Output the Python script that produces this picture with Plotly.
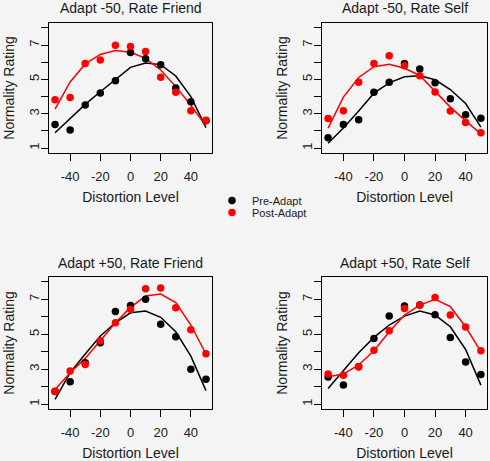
import plotly.graph_objects as go

# ---------------- data ----------------
distortion = [-50, -40, -30, -20, -10, 0, 10, 20, 30, 40, 50]

panel_titles = [
    "Adapt -50, Rate Friend",
    "Adapt -50, Rate Self",
    "Adapt +50, Rate Friend",
    "Adapt +50, Rate Self",
]

# Panel 1: Adapt -50, Rate Friend
p1_pre_pts = [2.38, 2.06, 3.51, 4.21, 4.92, 6.56, 6.20, 5.85, 4.50, 3.70, 2.60]
p1_post_pts = [3.81, 3.95, 5.93, 6.13, 6.99, 6.91, 6.62, 5.12, 4.26, 3.17, 2.63]
p1_pre_fit = [1.90, 2.72, 3.55, 4.28, 4.97, 5.70, 5.95, 5.86, 5.20, 4.00, 2.20]
p1_post_fit = [3.27, 4.85, 5.90, 6.45, 6.68, 6.58, 6.22, 5.55, 4.58, 3.50, 2.28]

# Panel 2: Adapt -50, Rate Self
p2_pre_pts = [1.60, 2.38, 2.65, 4.25, 4.83, 5.92, 5.61, 4.81, 3.87, 2.95, 2.74]
p2_post_pts = [2.72, 3.18, 4.84, 5.92, 6.38, 5.80, 5.21, 4.27, 3.16, 2.49, 1.90]
p2_pre_fit = [1.29, 2.17, 3.16, 4.20, 4.80, 5.15, 5.21, 4.98, 4.41, 3.60, 2.22]
p2_post_fit = [2.17, 3.97, 5.11, 5.74, 5.88, 5.65, 5.23, 4.30, 3.39, 2.59, 1.83]

# Panel 3: Adapt +50, Rate Friend
p3_pre_pts = [1.72, 2.28, 3.37, 4.51, 6.31, 6.65, 7.00, 5.58, 4.86, 3.00, 2.43]
p3_post_pts = [1.74, 2.89, 3.27, 4.63, 5.66, 6.44, 7.61, 7.65, 6.52, 5.26, 3.88]
p3_pre_fit = [1.27, 2.80, 3.87, 4.90, 5.66, 6.23, 6.33, 5.97, 5.14, 3.75, 1.77]
p3_post_fit = [1.84, 2.80, 3.62, 4.67, 5.66, 6.54, 7.19, 7.30, 6.81, 5.53, 3.87]

# Panel 4: Adapt +50, Rate Self
p4_pre_pts = [2.55, 2.09, 3.14, 4.76, 6.04, 6.62, 6.67, 6.12, 4.82, 3.41, 2.70]
p4_post_pts = [2.72, 2.66, 3.14, 4.09, 5.20, 6.48, 6.67, 7.11, 6.10, 5.41, 4.06]
p4_pre_fit = [1.90, 2.95, 3.94, 4.82, 5.53, 6.04, 6.33, 6.10, 5.43, 4.13, 2.09]
p4_post_fit = [2.57, 2.72, 3.24, 4.06, 5.14, 6.10, 6.67, 7.00, 6.58, 5.43, 4.00]

x_tickvals = [-40, -20, 0, 20, 40]
x_ticktext = ["-40", "-20", "0", "20", "40"]
y_tickvals = [1, 2, 3, 4, 5, 6, 7, 8]
y_ticktext = ["1", "", "3", "", "5", "", "7", ""]

series_names = ["Pre-Adapt", "Post-Adapt"]
series_colors = ["#000000", "#ff0000"]

panels = [
    (p1_pre_pts, p1_post_pts, p1_pre_fit, p1_post_fit),
    (p2_pre_pts, p2_post_pts, p2_pre_fit, p2_post_fit),
    (p3_pre_pts, p3_post_pts, p3_pre_fit, p3_post_fit),
    (p4_pre_pts, p4_post_pts, p4_pre_fit, p4_post_fit),
]

# ---------------- layout geometry ----------------
W, H = 490, 461
col_px = [(49, 212), (322, 487)]
row_px = [(23, 153), (277, 409)]
FONT = "Liberation Sans, Arial, Helvetica, sans-serif"
TXT = "#1a1a1a"
BG = "#f4f4f4"

fig = go.Figure()
layout = {}
annotations = []
legend_ids = ["legend", "legend2"]

for i, (pre_pts, post_pts, pre_fit, post_fit) in enumerate(panels):
    r, c = divmod(i, 2)
    n = "" if i == 0 else str(i + 1)
    xa, ya = "x" + n, "y" + n
    x0, x1 = col_px[c]
    y0, y1 = row_px[r]
    xdom = [x0 / W, x1 / W]
    ydom = [1 - y1 / H, 1 - y0 / H]

    pts = [pre_pts, post_pts]
    fits = [pre_fit, post_fit]
    for k in range(2):
        fig.add_trace(go.Scatter(
            x=distortion, y=fits[k], mode="lines",
            line=dict(color=series_colors[k], width=1.5),
            xaxis=xa, yaxis=ya, showlegend=False, hoverinfo="skip"))
    for k in range(2):
        fig.add_trace(go.Scatter(
            x=distortion, y=pts[k], mode="markers",
            marker=dict(color=series_colors[k], size=7.5),
            name=series_names[k], legendgroup=series_names[k],
            legend=legend_ids[k],
            showlegend=(i == 0),
            xaxis=xa, yaxis=ya))

    common = dict(
        showline=True, mirror=True, linecolor="#000000", linewidth=1,
        ticks="outside", ticklen=7, tickcolor="#000000", tickwidth=1,
        showgrid=False, zeroline=False, automargin=False,
        tickfont=dict(family=FONT, size=13, color=TXT),
    )
    layout["xaxis" + n] = dict(
        common, domain=xdom, anchor=ya, range=[-54, 54],
        tickvals=x_tickvals, ticktext=x_ticktext,
        ticklabelstandoff=4,
        title=dict(text="Distortion Level", font=dict(family=FONT, size=14, color=TXT), standoff=9),
    )
    layout["yaxis" + n] = dict(
        common, domain=ydom, anchor=xa, range=[0.72, 8.28],
        tickvals=y_tickvals, ticktext=y_ticktext, tickangle=-90,
        ticklabelstandoff=-3,
        title=dict(text="Normality Rating", font=dict(family=FONT, size=14, color=TXT), standoff=8),
    )
    title_y = 8 if r == 0 else 263
    annotations.append(dict(
        text=panel_titles[i], xref="paper", yref="paper",
        x=((x0 + x1) / 2) / W, y=1 - title_y / H,
        xanchor="center", yanchor="middle", showarrow=False,
        font=dict(family=FONT, size=14, color=TXT)))

legend_common = dict(
    xanchor="left", yanchor="top",
    bgcolor="rgba(0,0,0,0)", borderwidth=0,
    font=dict(family=FONT, size=11, color=TXT),
    itemwidth=30, tracegroupgap=0,
)

fig.update_layout(
    width=W, height=H,
    margin=dict(l=0, r=0, t=0, b=0),
    paper_bgcolor=BG, plot_bgcolor=BG,
    font=dict(family=FONT, color=TXT),
    annotations=annotations,
    showlegend=True,
    legend=dict(legend_common, x=212 / W, y=1 - 186 / H),
    legend2=dict(legend_common, x=212 / W, y=1 - 198 / H),
    **layout,
)

fig.write_html(
    "out.html",
    config={"displayModeBar": False},
    post_script="document.body.style.margin='0';document.body.style.overflow='hidden';",
)
